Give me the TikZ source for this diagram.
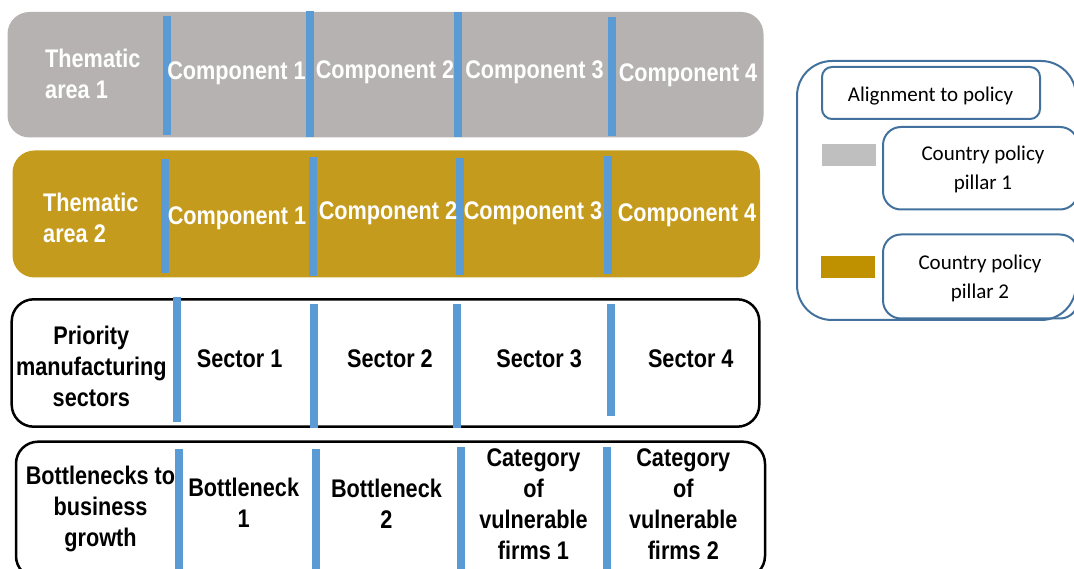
\documentclass[tikz,border=0pt]{standalone}
\usepackage{fontspec}
\newfontfamily\narrowfont{Liberation Sans}[FakeStretch=0.85]
\newfontfamily\calib{Carlito}
\definecolor{areagray}{HTML}{B6B2B1}
\definecolor{areagold}{HTML}{C49B1C}
\definecolor{sepblue}{HTML}{5B9BD5}
\definecolor{legblue}{HTML}{41719C}
\definecolor{swgray}{HTML}{BFBFBF}
\definecolor{swgold}{HTML}{BF9000}
\begin{document}
\begin{tikzpicture}[x=1pt,y=-1pt,
  rowbox/.style={rectangle, rounded corners=22pt, inner sep=0pt, outer sep=0pt},
  sepline/.style={draw=sepblue, line width=8pt},
  lbl/.style={font=\narrowfont\bfseries\fontsize{25.5}{31}\selectfont, inner sep=0pt, align=center},
  wlbl/.style={lbl, text=white},
  legbox/.style={draw=legblue, line width=2pt, rectangle, inner sep=0pt, outer sep=0pt},
  swatch/.style={rectangle, inner sep=0pt, outer sep=0pt, minimum width=54pt, minimum height=22pt},
  legtxt/.style={font=\calib\fontsize{21}{29}\selectfont, inner sep=0pt, align=center}]
\clip (0,0) rectangle (1074,569);
% rows
\node[rowbox, fill=areagray, minimum width=756pt, minimum height=125.5pt] (row1) at (385.5,74.75) {};
\node[rowbox, fill=areagold, minimum width=747.5pt, minimum height=127pt] (row2) at (386.25,214) {};
\node[rowbox, draw=black, line width=2.5pt, fill=white, minimum width=747.6pt, minimum height=127.4pt] (row3) at (385.5,363) {};
\node[rowbox, draw=black, line width=2.5pt, fill=white, minimum width=749pt, minimum height=136.3pt] (row4) at (390.5,509.85) {};
% separators
\draw[sepline] (167.2,16) -- (167.2,135);
\draw[sepline] (310.3,11) -- (310.3,136.7);
\draw[sepline] (458.3,12.3) -- (458.3,137.3);
\draw[sepline] (611.7,16.7) -- (611.7,136);
\draw[sepline] (165.3,159) -- (165.3,272.7);
\draw[sepline] (313,156.7) -- (313,275.7);
\draw[sepline] (460,158.3) -- (460,275);
\draw[sepline] (608.3,155.7) -- (608.3,274);
\draw[sepline] (176.7,296.7) -- (176.7,422.3);
\draw[sepline] (314,304) -- (314,428.3);
\draw[sepline] (456.7,304) -- (456.7,428.3);
\draw[sepline] (611.3,304) -- (611.3,415.7);
\draw[sepline] (179.3,449) -- (179.3,575);
\draw[sepline] (315.5,449) -- (315.5,575);
\draw[sepline] (460.5,447.3) -- (460.5,575);
\draw[sepline] (607.3,447.3) -- (607.3,575);
% row 1 text
\node[wlbl, align=left, anchor=west] (ta1) at (45,73.75) {Thematic\\area 1};
\node[wlbl, anchor=base] (c11) at (236.5,80) {Component 1};
\node[wlbl, anchor=base] (c12) at (385,79) {Component 2};
\node[wlbl, anchor=base] (c13) at (534.5,79) {Component 3};
\node[wlbl, anchor=base] (c14) at (688,82) {Component 4};
% row 2 text
\node[wlbl, align=left, anchor=west] (ta2) at (43,218) {Thematic\\area 2};
\node[wlbl, anchor=base] (c21) at (237,225) {Component 1};
\node[wlbl, anchor=base] (c22) at (388,220) {Component 2};
\node[wlbl, anchor=base] (c23) at (533,220) {Component 3};
\node[wlbl, anchor=base] (c24) at (687,221.7) {Component 4};
% row 3 text
\node[lbl] (pms) at (91.3,366) {Priority\\manufacturing\\sectors};
\node[lbl, anchor=base] (s1) at (239.7,367) {Sector 1};
\node[lbl, anchor=base] (s2) at (390,367) {Sector 2};
\node[lbl, anchor=base] (s3) at (539.2,367) {Sector 3};
\node[lbl, anchor=base] (s4) at (690.8,367) {Sector 4};
% row 4 text
\node[lbl] (btb) at (100.5,508.5) {Bottlenecks to\\business\\growth};
\node[lbl] (b1) at (243.7,503) {Bottleneck\\1};
\node[lbl] (b2) at (386.5,504) {Bottleneck\\2};
\node[lbl] (cv1) at (533.5,504) {Category\\of\\vulnerable\\firms 1};
\node[lbl] (cv2) at (683.3,504) {Category\\of\\vulnerable\\firms 2};
% legend
\node[legbox, rounded corners=35pt, minimum width=279pt, minimum height=259pt] (legend) at (936.5,190.5) {};
\node[legbox, rounded corners=10pt, minimum width=218pt, minimum height=52pt] (align) at (931,93) {};
\node[legtxt, anchor=base] (alignt) at (930.5,101.7) {Alignment to policy};
\node[swatch, fill=swgray] (sw1) at (849,155) {};
\node[legbox, rounded corners=18pt, minimum width=195pt, minimum height=82.5pt] (p1) at (980.5,168.25) {};
\node[legtxt] (p1t) at (983,169) {Country policy\\pillar 1};
\node[swatch, fill=swgold] (sw2) at (848,267) {};
\node[legbox, rounded corners=18pt, minimum width=195pt, minimum height=84pt] (p2) at (980.5,276.5) {};
\node[legtxt] (p2t) at (980,278.7) {Country policy\\pillar 2};
\end{tikzpicture}
\end{document}
